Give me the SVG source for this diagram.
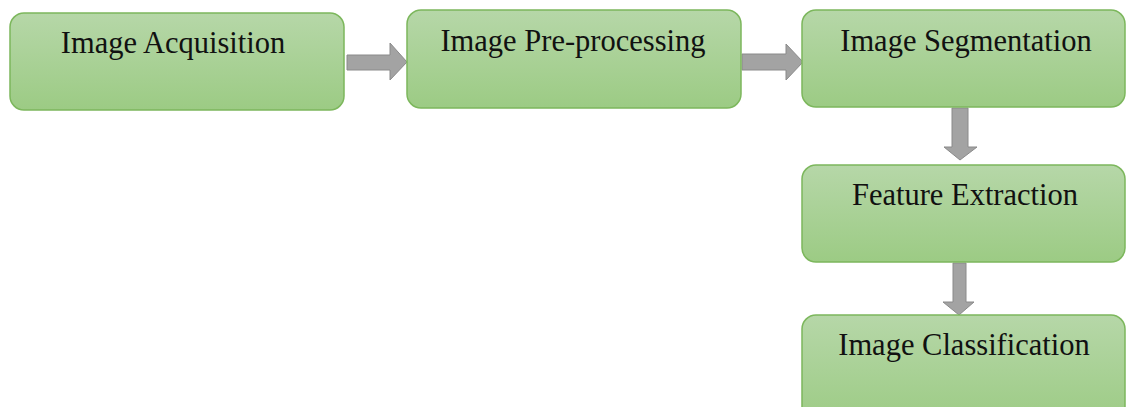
<svg xmlns="http://www.w3.org/2000/svg" width="1126" height="407" viewBox="0 0 1126 407">
<defs>
<linearGradient id="g" x1="0" y1="0" x2="0" y2="1">
<stop offset="0" stop-color="#b6d7a8"/>
<stop offset="1" stop-color="#9ccb84"/>
</linearGradient>
<style>
.box{fill:url(#g);stroke:#7cb75c;stroke-width:1.5}
.lbl{font-family:"Liberation Serif","Times New Roman",serif;font-size:30.5px;fill:#111;text-anchor:middle}
.arr{fill:#a3a3a3;stroke:#8a8a8a;stroke-width:1}
</style>
</defs>
<rect width="1126" height="407" fill="#fff"/>
<g id="connectors">
<path class="arr" d="M347,55 H390 V43 L407,62 L390,80 V70 H347 Z"/>
<path class="arr" d="M742,54 H786 V44 L803,62 L786,80 V70 H742 Z"/>
<path class="arr" d="M952,108 H968 V147 H977 L960,160 L944,147 H952 Z"/>
<path class="arr" d="M953,263 H966 V302 H974 L959,315 L943,302 H953 Z"/>
</g>
<g id="n1"><rect class="box" x="10" y="13" width="334" height="97" rx="14"/><text class="lbl" x="173" y="53">Image Acquisition</text></g>
<g id="n2"><rect class="box" x="407" y="10" width="334" height="98" rx="14"/><text class="lbl" x="573" y="51">Image Pre-processing</text></g>
<g id="n3"><rect class="box" x="802" y="10" width="323" height="97" rx="14"/><text class="lbl" x="966" y="51">Image Segmentation</text></g>
<g id="n4"><rect class="box" x="802" y="165" width="323" height="97" rx="14"/><text class="lbl" x="965" y="205">Feature Extraction</text></g>
<g id="n5"><rect class="box" x="802" y="315" width="323" height="110" rx="14"/><text class="lbl" x="964" y="355">Image Classification</text></g>
</svg>
